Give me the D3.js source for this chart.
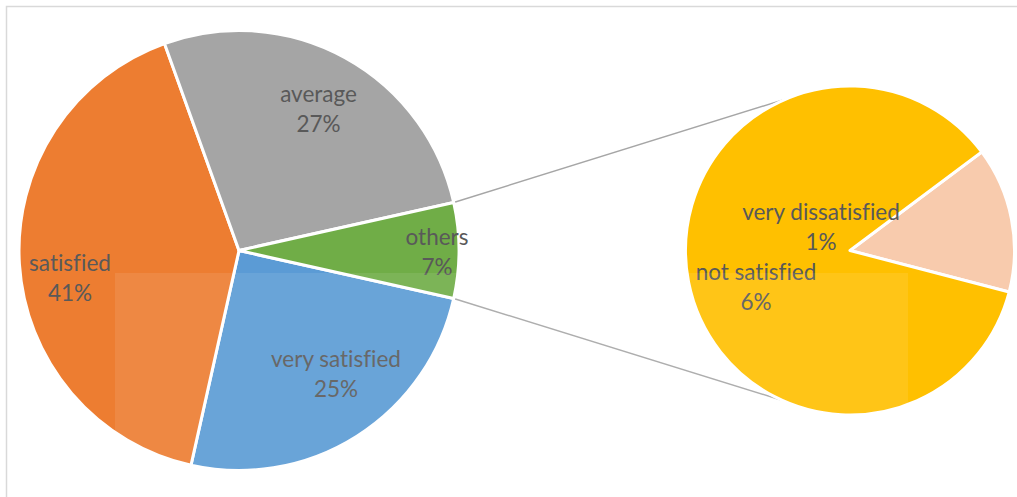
<!DOCTYPE html>
<html>
<head>
<meta charset="utf-8">
<script src="https://cdn.jsdelivr.net/npm/d3@7"></script>
<style>
  html, body { margin: 0; padding: 0; background: #ffffff; }
  svg { display: block; }
  .lbl {
    font-family: Lato, "Open Sans", sans-serif; font-size: 22.5px; fill: #595959;
    font-variant-ligatures: none; font-feature-settings: "liga" 0, "clig" 0;
  }
</style>
</head>
<body>
<svg id="chart" width="1017" height="497"></svg>
<script>
// Main pie: satisfaction levels, with the two smallest grouped as "others"
const mainCategories = ["very satisfied", "satisfied", "average", "others"];
const mainValues = [25, 41, 27, 7];
const mainColors = ["#5B9BD5", "#ED7D31", "#A5A5A5", "#70AD47"];

// Secondary pie: breakdown of "others"
const subCategories = ["very dissatisfied", "not satisfied"];
const subValues = [1, 6];
const subColors = ["#F8CBAD", "#FFC000"];

const W = 1017, H = 497;
const svg = d3.select("#chart");
const deg = Math.PI / 180;

// chart area frame (top and left edges visible)
svg.append("path")
  .attr("d", `M6.5,${H} V6.5 H${W}`)
  .attr("fill", "none")
  .attr("stroke", "#d9d9d9")
  .attr("stroke-width", 1.5);

const main = { cx: 239, cy: 250.5, r: 220 };
const sub = { cx: 850, cy: 250.5, r: 164.5 };

// the "others" slice is centred on 3 o'clock
const total = d3.sum(mainValues);
const othersSpan = mainValues[3] / total * 360;
const mainStart = (90 + othersSpan / 2) * deg;

const mainPie = d3.pie().sort(null).value(d => d)
  .startAngle(mainStart).endAngle(mainStart + 2 * Math.PI);
const mainArcs = mainPie(mainValues);

const subStart = 53.2 * deg;
const subPie = d3.pie().sort(null).value(d => d)
  .startAngle(subStart).endAngle(subStart + 2 * Math.PI);
const subArcs = subPie(subValues);

const mainArc = d3.arc().innerRadius(0).outerRadius(main.r);
const subArc = d3.arc().innerRadius(0).outerRadius(sub.r);

// connector lines between the "others" slice and the secondary pie
const othersArc = mainArcs[3];
function pt(c, a, r) { return [c.cx + r * Math.sin(a), c.cy - r * Math.cos(a)]; }
const topStart = pt(main, othersArc.startAngle, main.r);
const botStart = pt(main, othersArc.endAngle, main.r);
const topEnd = pt(sub, -22.8 * deg, sub.r);
const botEnd = pt(sub, 204.5 * deg, sub.r);
svg.append("g").selectAll("line")
  .data([[topStart, topEnd], [botStart, botEnd]])
  .join("line")
  .attr("x1", d => d[0][0]).attr("y1", d => d[0][1])
  .attr("x2", d => d[1][0]).attr("y2", d => d[1][1])
  .attr("stroke", "#a6a6a6").attr("stroke-width", 1.5);

const gMain = svg.append("g").attr("transform", `translate(${main.cx},${main.cy})`);
gMain.selectAll("path").data(mainArcs).join("path")
  .attr("d", mainArc)
  .attr("fill", (d, i) => mainColors[i])
  .attr("stroke", "#ffffff").attr("stroke-width", 3).attr("stroke-linejoin", "round");

const gSub = svg.append("g").attr("transform", `translate(${sub.cx},${sub.cy})`);
gSub.selectAll("path").data(subArcs).join("path")
  .attr("d", subArc)
  .attr("fill", (d, i) => subColors[i])
  .attr("stroke", "#ffffff").attr("stroke-width", 3).attr("stroke-linejoin", "round");

// data labels: category name over percentage
const mainLabelPos = [[336, 367], [70, 271], [318.5, 102], [437, 245]];
const subLabelPos = [[821, 220], [756, 280]];
const pct = v => `${Math.round(v)}%`;

function label(x, y, name, value) {
  const t = svg.append("text").attr("class", "lbl").attr("text-anchor", "middle");
  t.append("tspan").attr("x", x).attr("y", y).text(name);
  t.append("tspan").attr("x", x).attr("y", y + 30).text(pct(value));
}
mainCategories.forEach((c, i) => label(mainLabelPos[i][0], mainLabelPos[i][1], c, mainValues[i] / total * 100));
subCategories.forEach((c, i) => label(subLabelPos[i][0], subLabelPos[i][1], c, subValues[i]));

// faint light panel across the lower part of the plot area
svg.append("rect")
  .attr("x", 115).attr("y", 273).attr("width", 793).attr("height", H - 273)
  .attr("fill", "#ffffff").attr("fill-opacity", 0.09);
</script>
</body>
</html>
